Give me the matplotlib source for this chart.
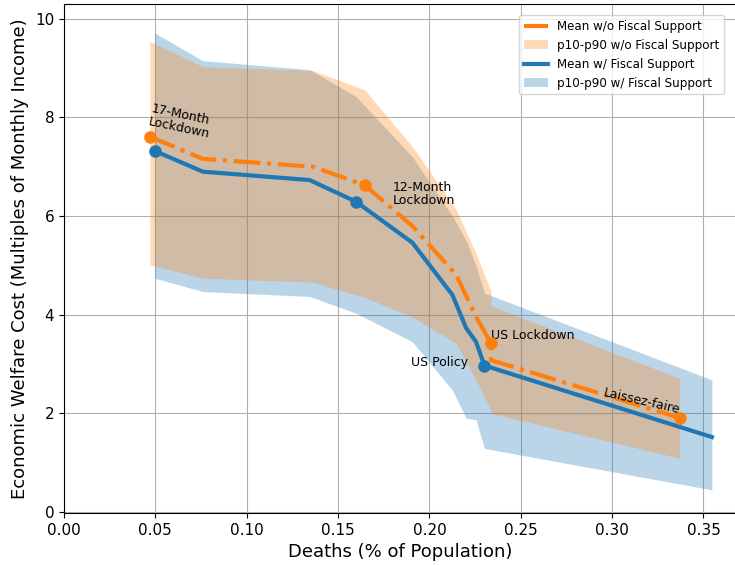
import matplotlib
matplotlib.use("Agg")
import matplotlib.pyplot as plt

# Mean without fiscal support (orange)
x_nofs = [0.0470, 0.0760, 0.1361, 0.1645, 0.1909, 0.2146, 0.2255, 0.2337, 0.2337, 0.3370]
y_nofs = [7.61, 7.16, 7.00, 6.63, 5.79, 4.81, 3.96, 3.42, 3.08, 1.91]
p90_nofs = [9.54, 9.03, 8.95, 8.56, 7.40, 6.13, 5.24, 4.47, 4.18, 2.71]
p10_nofs = [5.01, 4.74, 4.66, 4.35, 3.95, 3.42, 2.68, 2.07, 2.00, 1.09]

# Mean with fiscal support (blue)
x_fs = [0.0497, 0.0760, 0.1344, 0.1599, 0.1907, 0.2126, 0.2201, 0.2255, 0.2301, 0.3546]
y_fs = [7.32, 6.90, 6.73, 6.29, 5.46, 4.40, 3.73, 3.45, 2.97, 1.52]
p90_fs = [9.71, 9.15, 8.97, 8.42, 7.20, 6.00, 5.50, 5.00, 4.44, 2.68]
p10_fs = [4.74, 4.47, 4.37, 4.03, 3.45, 2.47, 1.90, 1.87, 1.29, 0.45]

# Highlighted scenarios
mark_nofs_x = [0.0470, 0.1645, 0.2337, 0.3370]
mark_nofs_y = [7.61, 6.63, 3.42, 1.91]
mark_fs_x = [0.0497, 0.1599, 0.2301]
mark_fs_y = [7.32, 6.29, 2.97]

ORANGE = "#ff7f0e"
BLUE = "#1f77b4"

fig = plt.figure(figsize=(7.35, 5.65), dpi=100)
ax = fig.add_axes([0.0871, 0.092, 0.916, 0.901])

ax.grid(True, color="#b0b0b0", linewidth=0.8)

band_fs = ax.fill_between(x_fs, p10_fs, p90_fs, color=BLUE, alpha=0.3, lw=0,
                          label="p10-p90 w/ Fiscal Support", zorder=2)
band_nofs = ax.fill_between(x_nofs, p10_nofs, p90_nofs, color=ORANGE, alpha=0.3, lw=0,
                            label="p10-p90 w/o Fiscal Support", zorder=2)
line_nofs, = ax.plot(x_nofs, y_nofs, color=ORANGE, lw=3, ls="-.",
                     label="Mean w/o Fiscal Support", zorder=3)
line_fs, = ax.plot(x_fs, y_fs, color=BLUE, lw=3, ls="-",
                   label="Mean w/ Fiscal Support", zorder=3)

ax.plot(mark_nofs_x, mark_nofs_y, "o", color=ORANGE, ms=8, zorder=4)
ax.plot(mark_fs_x, mark_fs_y, "o", color=BLUE, ms=8, zorder=4)

ax.text(0.0485, 8.30, "17-Month\nLockdown", fontsize=9, rotation=-12,
        rotation_mode="anchor", ha="left", va="top", linespacing=1.0)
ax.text(0.1798, 6.71, "12-Month\nLockdown", fontsize=9, ha="left", va="top", linespacing=1.0)
ax.text(0.2339, 3.71, "US Lockdown", fontsize=9, ha="left", va="top")
ax.text(0.1900, 3.16, "US Policy", fontsize=9, ha="left", va="top")
ax.text(0.3164, 2.24, "Laissez-faire", fontsize=9, rotation=-13,
        rotation_mode="anchor", ha="center", va="center")

ax.set_xlim(0.0, 0.3685)
ax.set_ylim(-0.02, 10.30)
ax.set_xticks([0.00, 0.05, 0.10, 0.15, 0.20, 0.25, 0.30, 0.35])
ax.set_yticks([0, 2, 4, 6, 8, 10])
ax.tick_params(labelsize=11)
ax.set_xlabel("Deaths (% of Population)", fontsize=13)
ax.set_ylabel("Economic Welfare Cost (Multiples of Monthly Income)", fontsize=13)

ax.legend(handles=[line_nofs, band_nofs, line_fs, band_fs],
          loc="upper right", fontsize=8.6, bbox_to_anchor=(0.9895, 0.99))

fig.savefig("out.png", dpi=100)
